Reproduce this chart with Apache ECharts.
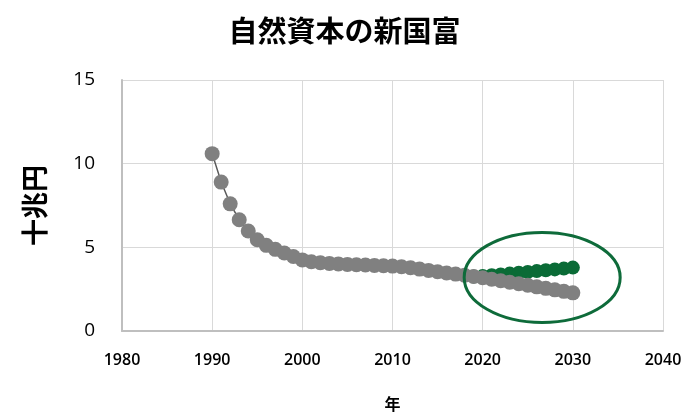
<!DOCTYPE html>
<html>
<head>
<meta charset="utf-8">
<script src="https://cdn.jsdelivr.net/npm/echarts@6/dist/echarts.min.js"></script>
<style>
  html, body { margin: 0; padding: 0; background: #fff; }
  #chartBox { width: 689px; height: 417px; }
</style>
</head>
<body>
<div id="chartBox"></div>
<script>
/**
 * 自然資本の新国富
 */
var _years = [1990, 1991, 1992, 1993, 1994, 1995, 1996, 1997, 1998, 1999,
    2000, 2001, 2002, 2003, 2004, 2005, 2006, 2007, 2008, 2009,
    2010, 2011, 2012, 2013, 2014, 2015, 2016, 2017, 2018, 2019,
    2020, 2021, 2022, 2023, 2024, 2025, 2026, 2027, 2028, 2029, 2030];
var _grayValues = [10.6, 8.9, 7.6, 6.65, 5.98, 5.45, 5.12, 4.88, 4.66, 4.45,
    4.25, 4.14, 4.08, 4.04, 4.01, 3.98, 3.96, 3.94, 3.92, 3.9,
    3.88, 3.84, 3.78, 3.7, 3.62, 3.54, 3.47, 3.4, 3.33, 3.26,
    3.18, 3.09, 3.0, 2.91, 2.82, 2.73, 2.64, 2.55, 2.46, 2.37, 2.28];
var _greenYears = [2019, 2020, 2021, 2022, 2023, 2024, 2025, 2026, 2027, 2028, 2029, 2030];
var _greenValues = [3.26, 3.28, 3.33, 3.38, 3.43, 3.48, 3.53, 3.58, 3.63, 3.68, 3.73, 3.79];
var _xTicks = [1980, 2040, 10];
var _yTicks = [0, 15, 5];
// 楕円の中心（データ座標）
var _ellipseCenter = [2026.6, 3.2];

var _numFont = '"Open Sans", "Noto Sans", sans-serif';
var _jpFont = '"Noto Sans CJK JP", sans-serif';

function pairs(xs, ys){
    var _list = [];
    for(var i = 0; i < xs.length; i++){
        _list.push([xs[i], ys[i]]);
    }
    return _list;
}

var _chart = echarts.init(document.getElementById('chartBox'));

_chart.setOption({
    animation: false,
    title: {
        text: '自然資本の新国富',
        left: 'center',
        top: 11,
        textStyle: {
            fontFamily: _jpFont,
            fontSize: 29,
            fontWeight: 'bold',
            color: '#000'
        }
    },
    grid: { left: 122, right: 26, top: 80, bottom: 86, outerBoundsMode: 'none', containLabel: false },
    xAxis: {
        type: 'value',
        min: _xTicks[0],
        max: _xTicks[1],
        interval: _xTicks[2],
        name: '年',
        nameLocation: 'middle',
        nameGap: 65,
        nameTextStyle: { fontFamily: _jpFont, fontSize: 16, fontWeight: 'bold', color: '#000' },
        axisLine: { show: true, lineStyle: { color: '#bfbfbf', width: 2 } },
        axisTick: { show: false },
        axisLabel: {
            margin: 21,
            fontFamily: _numFont,
            fontSize: 16,
            fontWeight: 600,
            color: '#000',
            formatter: function(v){ return String(v); }
        },
        splitLine: { show: true, lineStyle: { color: '#d9d9d9', width: 1 } }
    },
    yAxis: {
        type: 'value',
        min: _yTicks[0],
        max: _yTicks[1],
        interval: _yTicks[2],
        name: '十兆円',
        nameLocation: 'middle',
        nameGap: 74,
        nameTextStyle: { fontFamily: _jpFont, fontSize: 27, fontWeight: 'bold', color: '#000' },
        axisLine: { show: true, lineStyle: { color: '#bfbfbf', width: 2 } },
        axisTick: { show: false },
        axisLabel: {
            margin: 27,
            fontFamily: _numFont,
            fontSize: 19,
            color: '#000'
        },
        splitLine: { show: true, lineStyle: { color: '#d9d9d9', width: 1 } }
    },
    series: [
        {
            name: 'green',
            type: 'line',
            z: 2,
            data: pairs(_greenYears, _greenValues),
            symbol: 'circle',
            symbolSize: 14,
            itemStyle: { color: '#0a6b36' },
            lineStyle: { color: '#0a6b36', width: 1.5 }
        },
        {
            name: 'gray',
            type: 'line',
            z: 3,
            data: pairs(_years, _grayValues),
            symbol: 'circle',
            symbolSize: 15,
            itemStyle: { color: '#808080' },
            lineStyle: { color: '#595959', width: 1.5 }
        }
    ]
});

// 楕円の注記
var _c = _chart.convertToPixel({ gridIndex: 0 }, _ellipseCenter);
_chart.setOption({
    graphic: [{
        type: 'ellipse',
        z: 10,
        shape: { cx: _c[0], cy: _c[1], rx: 78, ry: 45 },
        style: { fill: 'none', stroke: '#0e6b3a', lineWidth: 3 }
    }]
});
</script>
</body>
</html>
